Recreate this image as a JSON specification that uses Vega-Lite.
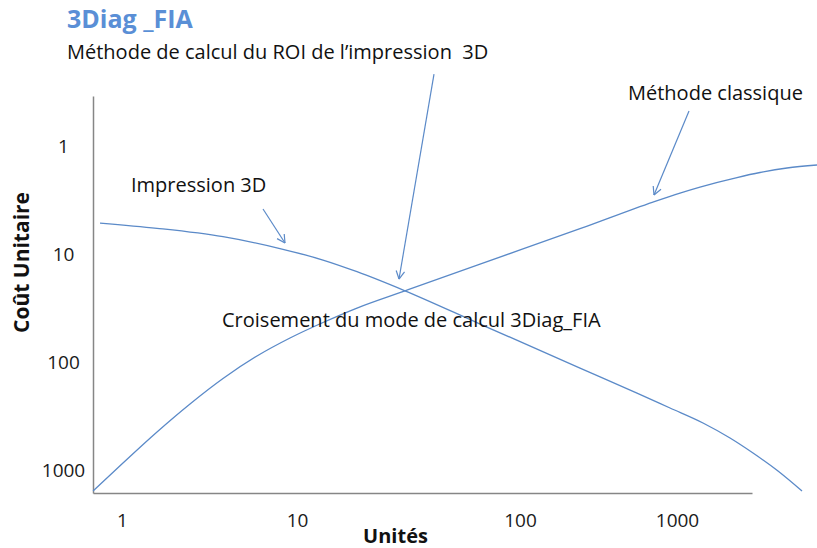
{
  "$schema": "https://vega.github.io/schema/vega-lite/v6.json",
  "width": 659,
  "height": 397,
  "autosize": {"type": "none"},
  "padding": {"left": 93, "top": 96, "right": 65, "bottom": 55},
  "background": "white",
  "config": {"view": {"stroke": null}, "font": "Open Sans"},
  "title": {
    "text": "3Diag _FIA",
    "subtitle": "Méthode de calcul du ROI de l’impression\u00a0 3D",
    "anchor": "start",
    "frame": "group",
    "dx": -26,
    "offset": 10,
    "fontSize": 25,
    "fontWeight": "bold",
    "color": "#5a8fd6",
    "font": "Open Sans",
    "subtitleFont": "Open Sans",
    "subtitleFontSize": 20,
    "subtitleColor": "#111111",
    "subtitlePadding": 10
  },
  "datasets": {
    "courbes": [
      {"serie": "Impression 3D", "unites": 0.7485, "cout": 5.127},
      {"serie": "Impression 3D", "unites": 1.585, "cout": 5.739},
      {"serie": "Impression 3D", "unites": 3.777, "cout": 6.862},
      {"serie": "Impression 3D", "unites": 8.318, "cout": 8.973},
      {"serie": "Impression 3D", "unites": 13.08, "cout": 11.27},
      {"serie": "Impression 3D", "unites": 18.58, "cout": 14.45},
      {"serie": "Impression 3D", "unites": 30.5, "cout": 21.7},
      {"serie": "Impression 3D", "unites": 66.2, "cout": 43.99},
      {"serie": "Impression 3D", "unites": 241.1, "cout": 112.2},
      {"serie": "Impression 3D", "unites": 556.2, "cout": 191.0},
      {"serie": "Impression 3D", "unites": 902.6, "cout": 262.8},
      {"serie": "Impression 3D", "unites": 1464, "cout": 361.5},
      {"serie": "Impression 3D", "unites": 2176, "cout": 497.7},
      {"serie": "Impression 3D", "unites": 3049, "cout": 684.8},
      {"serie": "Impression 3D", "unites": 4398, "cout": 1004},
      {"serie": "Impression 3D", "unites": 6255, "cout": 1537},
      {"serie": "Méthode classique", "unites": 0.683, "cout": 1537},
      {"serie": "Méthode classique", "unites": 1.013, "cout": 847.1},
      {"serie": "Méthode classique", "unites": 1.585, "cout": 437.9},
      {"serie": "Méthode classique", "unites": 2.447, "cout": 241.3},
      {"serie": "Méthode classique", "unites": 3.777, "cout": 140.3},
      {"serie": "Méthode classique", "unites": 5.906, "cout": 86.9},
      {"serie": "Méthode classique", "unites": 9.12, "cout": 59.25},
      {"serie": "Méthode classique", "unites": 13.08, "cout": 42.59},
      {"serie": "Méthode classique", "unites": 18.58, "cout": 31.29},
      {"serie": "Méthode classique", "unites": 30.5, "cout": 21.7},
      {"serie": "Méthode classique", "unites": 66.2, "cout": 12.27},
      {"serie": "Méthode classique", "unites": 241.1, "cout": 5.788},
      {"serie": "Méthode classique", "unites": 703, "cout": 3.279},
      {"serie": "Méthode classique", "unites": 1045, "cout": 2.707},
      {"serie": "Méthode classique", "unites": 1401, "cout": 2.383},
      {"serie": "Méthode classique", "unites": 2411, "cout": 1.947},
      {"serie": "Méthode classique", "unites": 3379, "cout": 1.75},
      {"serie": "Méthode classique", "unites": 5020, "cout": 1.59},
      {"serie": "Méthode classique", "unites": 7795, "cout": 1.492}
    ],
    "fleches": [
      {"unites": 6.394, "cout": 3.805, "unites2": 8.54, "cout2": 7.846},
      {"unites": 8.54, "cout": 7.846, "unites2": 8.45, "cout2": 6.478},
      {"unites": 8.54, "cout": 7.846, "unites2": 7.697, "cout2": 7.145},
      {"unites": 41.15, "cout": 0.2152, "unites2": 28.67, "cout2": 16.88},
      {"unites": 28.67, "cout": 16.88, "unites2": 30.35, "cout2": 14.51},
      {"unites": 28.67, "cout": 16.88, "unites2": 27.85, "cout2": 14.09},
      {"unites": 1192.6, "cout": 0.4728, "unites2": 713.7, "cout2": 2.825},
      {"unites": 713.7, "cout": 2.825, "unites2": 791.0, "cout2": 2.502},
      {"unites": 713.7, "cout": 2.825, "unites2": 705.4, "cout2": 2.333}
    ],
    "textes": [
      {"texte": "Impression 3D", "unites": 1.126, "cout": 2.333},
      {"texte": "Méthode classique", "unites": 487.4, "cout": 0.3293},
      {"texte": "Croisement du mode de calcul 3Diag_FIA", "unites": 3.728, "cout": 41.26}
    ]
  },
  "encoding": {
    "x": {
      "field": "unites",
      "type": "quantitative",
      "scale": {
        "type": "log",
        "domain": [0.6826, 1, 10, 100, 1000, 3004],
        "range": [0, 29, 204, 427, 584, 659],
        "nice": false
      },
      "axis": {
        "values": [1, 10, 100, 1000],
        "format": "d",
        "ticks": false,
        "tickSize": 0,
        "grid": false,
        "labelFlush": false,
        "labelOverlap": false,
        "labelPadding": 27,
        "labelBaseline": "middle",
        "labelFontSize": 19,
        "labelColor": "#1a1a1a",
        "domainColor": "#868686",
        "domainWidth": 1.5,
        "title": "Unités",
        "titleFontSize": 20,
        "titleFontWeight": "bold",
        "titleColor": "#111111",
        "titleX": 302,
        "titleY": 43,
        "titleBaseline": "middle",
        "titleAlign": "center"
      }
    },
    "y": {
      "field": "cout",
      "type": "quantitative",
      "scale": {
        "type": "log",
        "domain": [0.3435, 1603],
        "reverse": true,
        "nice": false
      },
      "axis": {
        "values": [1, 10, 100, 1000],
        "format": "d",
        "ticks": false,
        "tickSize": 0,
        "grid": false,
        "labelFlush": false,
        "labelOverlap": false,
        "labelAlign": "center",
        "labelBaseline": "middle",
        "labelPadding": 30,
        "labelFontSize": 19,
        "labelColor": "#1a1a1a",
        "domainColor": "#868686",
        "domainWidth": 1.5,
        "title": "Coût Unitaire",
        "titleFontSize": 21,
        "titleFontWeight": "bold",
        "titleColor": "#111111",
        "titleX": -71,
        "titleY": 166,
        "titleBaseline": "middle",
        "titleAlign": "center",
        "titleAngle": -90
      }
    }
  },
  "layer": [
    {
      "data": {"name": "courbes"},
      "mark": {"type": "line", "interpolate": "monotone", "color": "#5b8ac8", "strokeWidth": 1.3},
      "encoding": {"detail": {"field": "serie"}}
    },
    {
      "data": {"name": "fleches"},
      "mark": {"type": "rule", "color": "#5b8ac8", "strokeWidth": 1.2},
      "encoding": {
        "x2": {"field": "unites2"},
        "y2": {"field": "cout2"}
      }
    },
    {
      "data": {"name": "textes"},
      "mark": {"type": "text", "align": "left", "baseline": "middle", "fontSize": 20, "color": "#111111"},
      "encoding": {"text": {"field": "texte"}}
    }
  ]
}
